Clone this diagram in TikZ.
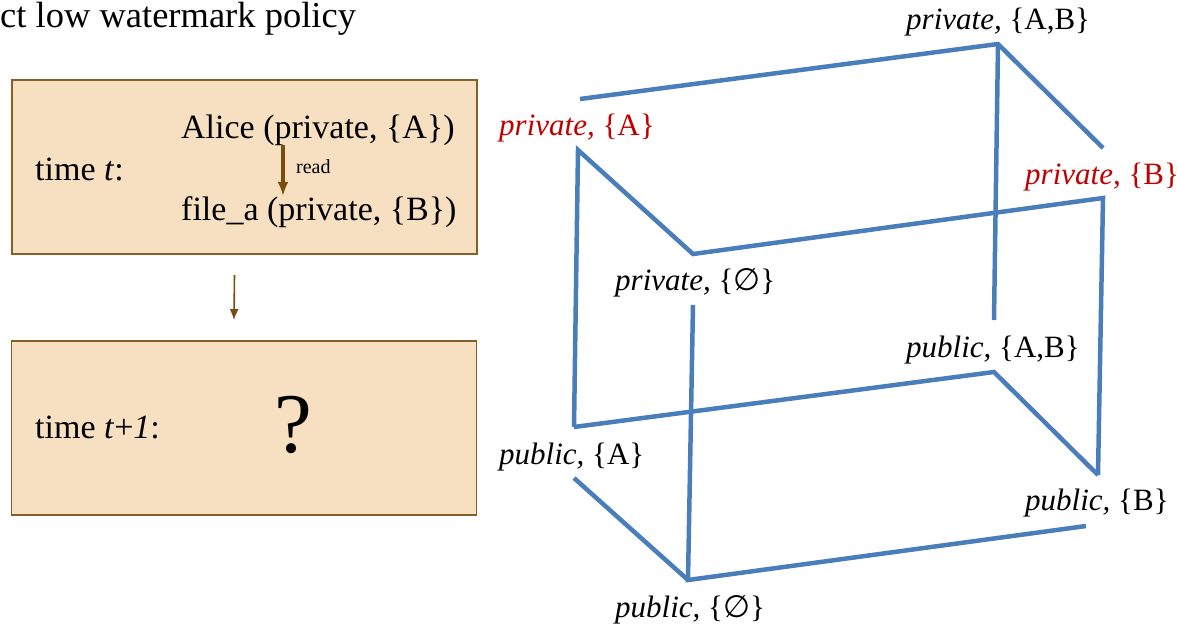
\documentclass[tikz,border=0pt]{standalone}
\usepackage{fontspec}
\setmainfont{Liberation Serif}
\newfontfamily\symbfont{DejaVu Sans}
\usetikzlibrary{positioning,arrows.meta}
\definecolor{boxfill}{RGB}{247,223,193}
\definecolor{boxframe}{RGB}{133,95,40}
\definecolor{arrowbrown}{RGB}{120,75,15}
\definecolor{cubeblue}{RGB}{74,126,187}
\definecolor{labelred}{RGB}{192,0,0}
\newcommand{\nullset}{{\symbfont ∅}}

\begin{document}
\begin{tikzpicture}[
  x=1pt, y=-1pt,
  box/.style={rectangle, draw=boxframe, fill=boxfill, line width=1.8pt,
              minimum width=465pt, minimum height=174pt},
  txt/.style={inner sep=0pt, anchor=base west, font=\fontsize{34}{40}\selectfont},
  lbl/.style={inner sep=0pt, anchor=west, font=\fontsize{31}{36}\selectfont},
  hot/.style={lbl, text=labelred},
  ar/.style={-{Latex[length=11pt,width=9pt]}, line width=1.6pt, draw=arrowbrown},
  edge/.style={line width=4.5pt, draw=cubeblue}
]
\useasboundingbox (0,0) rectangle (1178,627);

% Title
\node[inner sep=0pt, anchor=base west, font=\fontsize{36.5}{42}\selectfont] (title) at (0,27) {ct low watermark policy};

% Left: the two time steps
\node[box] (t0) at (244.5,167) {};
\node[box] (t1) at (244,428) {};

\node[txt] (tt0)   at (35,180)  {time \textit{t}:};
\node[txt] (alice) at (181,138) {Alice (private, \{A\})};
\node[txt] (file)  at (181,220) {file\_a (private, \{B\})};
\node[inner sep=0pt, anchor=base west, font=\fontsize{20}{23}\selectfont] (rd) at (296,173) {read};
\draw[ar, line width=3.5pt, -{Latex[length=14pt,width=11pt]}]
  ([xshift=102pt]alice.south west) -- ([xshift=102pt]file.north west);

\node[txt] (tt1) at (35,438) {time \textit{t}+\textit{1}:};
\node[inner sep=0pt, anchor=base, font=\fontsize{85}{90}\selectfont] (q) at (293,452) {?};

% Step arrow between the boxes
\draw[ar] ([xshift=-10pt,yshift=-20pt]t0.south) -- ([xshift=-10pt,yshift=20pt]t1.north);

% Right: the lattice drawn as a cube
\coordinate (prAB)  at (998,44);
\coordinate (prA0)  at (580,99);
\coordinate (prA)   at (578,150);
\coordinate (prB0)  at (1103,148);
\coordinate (prB)   at (1103,198);
\coordinate (prE)   at (693,254);
\coordinate (prE1)  at (693,305);
\coordinate (puAB0) at (994,320);
\coordinate (puAB)  at (994,372);
\coordinate (puA)   at (574,427);
\coordinate (puA1)  at (574,478);
\coordinate (puB)   at (1098,475);
\coordinate (puB1)  at (1086,526);
\coordinate (puE)   at (688,580);

\draw[edge] (prA0) -- (prAB) -- (prB0);
\draw[edge] (prAB) -- (puAB0);
\draw[edge] (puA) -- (prA) -- (prE) -- (prB) -- (puB);
\draw[edge] (puA) -- (puAB) -- (puB);
\draw[edge] (prE1) -- (puE) -- (puB1);
\draw[edge] (puA1) -- (puE);

% Labels of the levels
\node[lbl] (lprAB) at (906,22)  {\textit{private,} \{A,B\}};
\node[hot] (lprA)  at (499,128) {\textit{private,} \{A\}};
\node[hot] (lprB)  at (1025,177) {\textit{private,} \{B\}};
\node[lbl] (lprE)  at (615,283) {\textit{private,} \{\nullset\}};
\node[lbl] (lpuAB) at (906,350) {\textit{public,} \{A,B\}};
\node[lbl] (lpuA)  at (499,457) {\textit{public,} \{A\}};
\node[lbl] (lpuB)  at (1025,503) {\textit{public,} \{B\}};
\node[lbl] (lpuE)  at (615,610) {\textit{public,} \{\nullset\}};
\end{tikzpicture}
\end{document}
